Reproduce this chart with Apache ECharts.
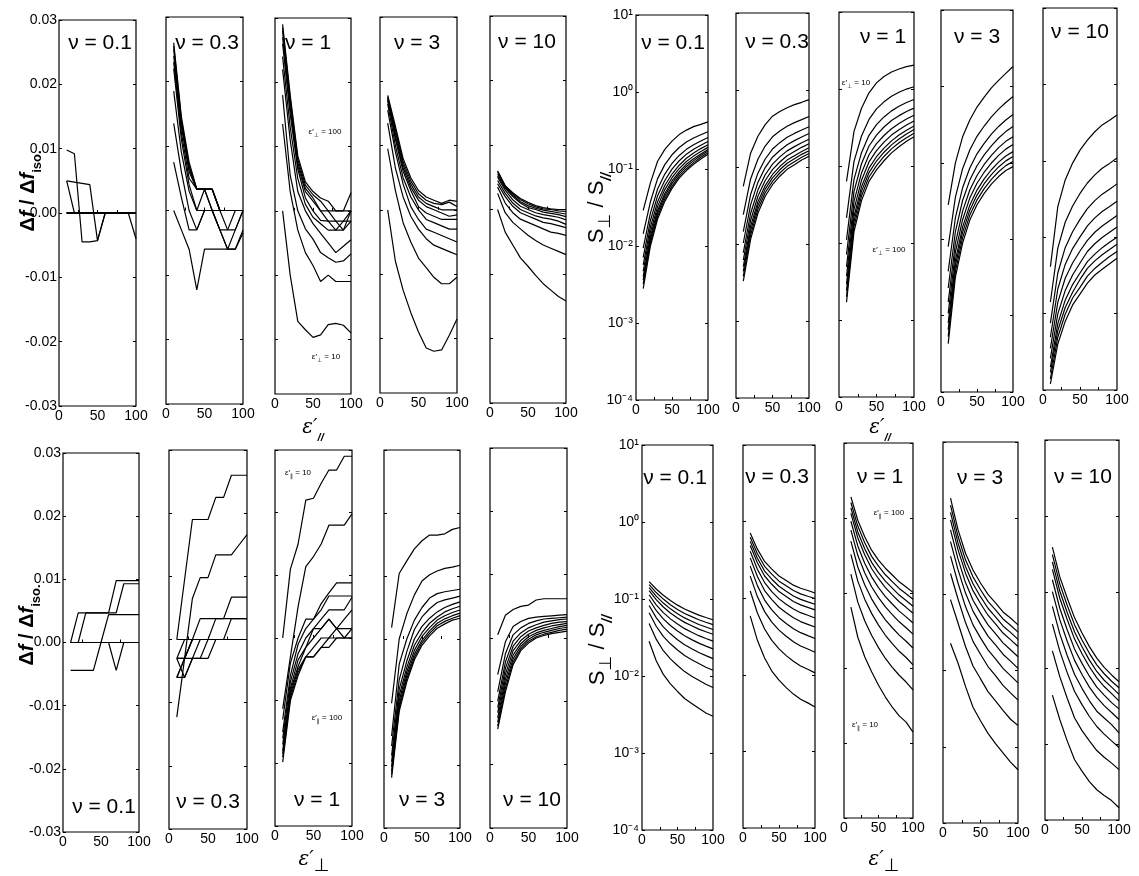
<!DOCTYPE html>
<html><head><meta charset="utf-8">
<script src="https://cdn.jsdelivr.net/npm/echarts@6/dist/echarts.min.js"></script>
<style>html,body{margin:0;padding:0;background:#fff}#c{width:1139px;height:876px}</style>
</head><body><div id="c"></div>
<script>
// ---------- shared axes / categories ----------
const X = [10,20,30,40,50,60,70,80,90,100];          // ε' sampled values
const epsLevels = [10,20,30,40,50,60,70,80,90,100];  // curve parameter (other ε')
const nuLabels = ['0.1','0.3','1','3','10'];
const xTickLabels = [0,50,100];
const xTickMarks = [25,50,75];
const linTicks = [-0.03,-0.02,-0.01,0,0.01,0.02,0.03];

// ---------- top-left: Δf/Δf_iso vs ε'∥ (rows: ε'⊥ = 10..100) ----------
const dfPar_nu01 = [
 [0.0098,0.0092,-0.0045,-0.0045,-0.0043,0,0,0,0,-0.004],
 [0.005,0.0048,0.0046,0.0044,-0.0043,0,0,0,0,0],
 [0.005,0,0,0,0,0,0,0,0,0],
 [0,0,0,0,0,0,0,0,0,0],[0,0,0,0,0,0,0,0,0,0],[0,0,0,0,0,0,0,0,0,0],
 [0,0,0,0,0,0,0,0,0,0],[0,0,0,0,0,0,0,0,0,0],[0,0,0,0,0,0,0,0,0,0],[0,0,0,0,0,0,0,0,0,0]
];
const dfPar_nu03 = [
 [0,-0.003,-0.006,-0.0123,-0.006,-0.006,-0.006,-0.006,-0.006,-0.0035],
 [0.0075,0.002,-0.003,-0.003,0,0,-0.003,-0.006,-0.006,-0.003],
 [0.0135,0.006,0,-0.003,0,0,-0.003,-0.006,-0.003,0],
 [0.0185,0.009,0.003,0,0,0,-0.003,-0.003,0,0],
 [0.022,0.011,0.004,0,0.0033,0,0,-0.003,-0.003,0],
 [0.023,0.012,0.005,0.0033,0.0033,0,0,0,0,0],
 [0.024,0.013,0.006,0.0033,0.0033,0.0033,0,0,0,0],
 [0.025,0.0135,0.0065,0.0033,0.0033,0.0033,0,0,0,0],
 [0.0255,0.014,0.007,0.0033,0.0033,0.0033,0,0,0,0],
 [0.026,0.0145,0.0075,0.0033,0.0033,0.0033,0,0,0,0]
];
const dfPar_nu1 = [
 [0,-0.01,-0.0172,-0.0185,-0.0197,-0.0193,-0.0177,-0.0175,-0.0178,-0.019],
 [0.0135,0.003,-0.003,-0.0065,-0.0085,-0.011,-0.01,-0.011,-0.011,-0.011],
 [0.018,0.0055,0,-0.0028,-0.0044,-0.0065,-0.0073,-0.008,-0.0078,-0.0067],
 [0.022,0.011,0.003,0,-0.002,-0.0035,-0.005,-0.0065,-0.0055,-0.0045],
 [0.024,0.013,0.005,0.001,-0.001,-0.002,-0.003,-0.003,-0.003,-0.0016],
 [0.026,0.015,0.0065,0.002,0,-0.0015,-0.0016,-0.003,-0.0016,-0.0016],
 [0.027,0.016,0.007,0.003,0.0015,0,-0.0016,-0.0016,-0.003,0],
 [0.028,0.017,0.0075,0.0035,0.002,0,0,-0.0016,-0.0016,0],
 [0.0285,0.0175,0.008,0.004,0.0025,0.0015,0,0,0,0],
 [0.029,0.018,0.0085,0.0045,0.003,0.002,0.0015,0,0,0.0028]
];
const dfPar_nu3 = [
 [0,-0.008,-0.0125,-0.016,-0.019,-0.0215,-0.022,-0.0218,-0.0195,-0.017],
 [0.0095,0.003,-0.002,-0.005,-0.0075,-0.009,-0.0105,-0.0115,-0.0115,-0.0105],
 [0.0135,0.0065,0.002,-0.001,-0.003,-0.0045,-0.0055,-0.006,-0.0065,-0.007],
 [0.0155,0.009,0.004,0.0005,-0.0015,-0.003,-0.0035,-0.004,-0.0045,-0.005],
 [0.0165,0.01,0.005,0.002,0,-0.0015,-0.002,-0.0025,-0.003,-0.003],
 [0.017,0.011,0.006,0.003,0.0005,-0.0005,-0.001,-0.0015,-0.0015,-0.0015],
 [0.0172,0.0115,0.0065,0.0035,0.0015,0.0005,0,-0.0005,-0.001,-0.0008],
 [0.0174,0.012,0.007,0.004,0.002,0.001,0.0005,0,0,0],
 [0.0176,0.0125,0.0075,0.0045,0.0025,0.0015,0.001,0.0008,0.0012,0.0005],
 [0.0178,0.013,0.008,0.005,0.003,0.002,0.0015,0.001,0.0015,0.0013]
];
const dfPar_nu10 = [
 [0,-0.0035,-0.0055,-0.0075,-0.0088,-0.0102,-0.0115,-0.0125,-0.0135,-0.0142],
 [0.0025,-0.0005,-0.002,-0.003,-0.004,-0.0048,-0.0055,-0.006,-0.0065,-0.007],
 [0.0035,0.001,-0.0005,-0.0015,-0.002,-0.0025,-0.003,-0.0035,-0.0037,-0.004],
 [0.004,0.002,0.0005,-0.0005,-0.001,-0.0015,-0.002,-0.0022,-0.0025,-0.0028],
 [0.0045,0.0025,0.001,0,-0.0005,-0.001,-0.0013,-0.0015,-0.0018,-0.0023],
 [0.005,0.003,0.0015,0.0005,0,-0.0005,-0.0008,-0.001,-0.0012,-0.0016],
 [0.0052,0.0033,0.002,0.001,0.0003,0,-0.0004,-0.0006,-0.0008,-0.0011],
 [0.0055,0.0035,0.0022,0.0012,0.0006,0.0002,-0.0001,-0.0003,-0.0005,-0.0007],
 [0.0058,0.0036,0.0024,0.0015,0.0009,0.0004,0.0001,0,-0.0002,-0.0003],
 [0.006,0.0037,0.0026,0.0017,0.0011,0.0006,0.0003,0.0001,0,0]
];

// ---------- top-right: S⊥/S∥ vs ε'∥ (rows: ε'⊥ = 10..100) ----------
const sPar_nu01 = [
 [0.029,0.066,0.126,0.18,0.23,0.28,0.32,0.355,0.38,0.41],
 [0.0144,0.0375,0.075,0.114,0.153,0.19,0.224,0.253,0.279,0.305],
 [0.0094,0.0267,0.055,0.086,0.118,0.15,0.18,0.207,0.231,0.256],
 [0.0071,0.0213,0.045,0.071,0.0995,0.128,0.156,0.18,0.204,0.228],
 [0.0057,0.0176,0.0376,0.061,0.086,0.112,0.138,0.161,0.184,0.207],
 [0.0047,0.0151,0.0327,0.054,0.077,0.101,0.125,0.147,0.169,0.191],
 [0.004,0.0133,0.029,0.048,0.07,0.092,0.115,0.136,0.157,0.179],
 [0.0036,0.0121,0.0266,0.0445,0.065,0.0865,0.108,0.1285,0.15,0.171],
 [0.0032,0.011,0.0244,0.041,0.06,0.081,0.101,0.121,0.142,0.163],
 [0.0028,0.01,0.0224,0.038,0.056,0.076,0.0955,0.115,0.135,0.155]
];
const sPar_nu03 = [
 [0.056,0.151,0.251,0.355,0.457,0.525,0.589,0.646,0.692,0.75],
 [0.024,0.07,0.126,0.187,0.247,0.294,0.339,0.377,0.412,0.452],
 [0.0145,0.0439,0.0832,0.127,0.171,0.207,0.243,0.273,0.302,0.333],
 [0.0103,0.0322,0.0631,0.0982,0.134,0.164,0.195,0.22,0.245,0.272],
 [0.0077,0.0249,0.0501,0.0793,0.109,0.1355,0.162,0.184,0.2065,0.229],
 [0.0062,0.0202,0.0417,0.0668,0.0925,0.116,0.14,0.159,0.18,0.2],
 [0.0051,0.0169,0.0355,0.0574,0.08,0.1014,0.123,0.14,0.159,0.178],
 [0.0044,0.0149,0.0316,0.0516,0.0723,0.092,0.112,0.128,0.146,0.163],
 [0.0038,0.0131,0.0282,0.0463,0.0652,0.0836,0.102,0.117,0.134,0.15],
 [0.0033,0.0115,0.0251,0.0417,0.0589,0.0759,0.0933,0.107,0.123,0.138]
];
const sPar_nu1 = [
 [0.0631,0.282,0.562,0.891,1.2,1.45,1.66,1.82,1.95,2.04],
 [0.0212,0.115,0.245,0.403,0.551,0.681,0.804,0.906,0.998,1.07],
 [0.011,0.067,0.149,0.25,0.345,0.434,0.52,0.596,0.667,0.731],
 [0.0071,0.0468,0.107,0.182,0.252,0.321,0.389,0.451,0.511,0.565],
 [0.0049,0.0347,0.0813,0.14,0.195,0.249,0.305,0.357,0.408,0.456],
 [0.0037,0.0273,0.0652,0.113,0.158,0.204,0.252,0.296,0.341,0.385],
 [0.0029,0.0221,0.0537,0.0938,0.132,0.171,0.212,0.252,0.292,0.33],
 [0.0024,0.0191,0.0468,0.0822,0.116,0.151,0.188,0.224,0.261,0.297],
 [0.002,0.0164,0.0407,0.072,0.101,0.133,0.167,0.2,0.233,0.267],
 [0.0017,0.0141,0.0355,0.0631,0.0891,0.117,0.148,0.178,0.209,0.24]
];
const sPar_nu3 = [
 [0.0282,0.1,0.219,0.363,0.537,0.724,0.955,1.2,1.48,1.82],
 [0.008,0.0355,0.0838,0.147,0.222,0.303,0.4,0.504,0.615,0.736],
 [0.0038,0.0191,0.0471,0.0853,0.131,0.18,0.237,0.299,0.363,0.428],
 [0.0023,0.0126,0.0321,0.0594,0.0916,0.127,0.167,0.211,0.256,0.298],
 [0.0015,0.0089,0.0233,0.044,0.0682,0.0951,0.125,0.158,0.191,0.22],
 [0.00107,0.0068,0.018,0.0345,0.054,0.0753,0.0993,0.125,0.151,0.173],
 [0.0008,0.0053,0.0144,0.0279,0.0439,0.0615,0.0811,0.102,0.123,0.14],
 [0.00065,0.0045,0.0123,0.024,0.0378,0.0532,0.0701,0.0883,0.106,0.121],
 [0.00053,0.0038,0.0104,0.0207,0.0327,0.046,0.0607,0.0764,0.0918,0.104],
 [0.00043,0.0032,0.0089,0.0178,0.0282,0.0398,0.0525,0.0661,0.0794,0.0891]
];
const sPar_nu10 = [
 [0.0041,0.0251,0.0562,0.0933,0.138,0.186,0.24,0.295,0.339,0.398],
 [0.00142,0.0072,0.0157,0.0256,0.0374,0.0512,0.0655,0.08,0.0925,0.109],
 [0.00075,0.0034,0.0073,0.0118,0.0171,0.0236,0.0301,0.0366,0.0425,0.0499],
 [0.00049,0.0021,0.0044,0.0071,0.0101,0.0141,0.0179,0.0217,0.0252,0.0296],
 [0.00035,0.0014,0.0029,0.0046,0.0066,0.0091,0.0116,0.014,0.0164,0.0192],
 [0.00026,0.00099,0.002,0.0032,0.0046,0.0065,0.0082,0.0099,0.0116,0.0136],
 [0.0002,0.00074,0.0015,0.0024,0.0034,0.0048,0.006,0.0073,0.0086,0.01],
 [0.00017,0.0006,0.0012,0.0019,0.0028,0.0039,0.0049,0.0059,0.0069,0.0081],
 [0.00014,0.00049,0.00098,0.0016,0.0022,0.0031,0.0039,0.0047,0.0056,0.0065],
 [0.00012,0.0004,0.00079,0.0013,0.0018,0.0025,0.0032,0.0038,0.0045,0.0053]
];

// ---------- bottom-left: Δf/Δf_iso vs ε'⊥ (rows: ε'∥ = 10..100) ----------
const dfPerp_nu01 = [
 [0,0.0047,0.0047,0.0047,0.0047,0.0047,0.0098,0.0098,0.0098,0.0098],
 [0,0,0.0047,0.0047,0.0047,0.0047,0.0047,0.0093,0.0093,0.0093],
 [-0.0044,-0.0044,-0.0044,-0.0044,0,0.0044,0.0044,0.0044,0.0044,0.0044],
 [0,0,0,0,0,0,-0.0044,0,0,0],
 [0,0,0,0,0,0,0,0,0,0],[0,0,0,0,0,0,0,0,0,0],[0,0,0,0,0,0,0,0,0,0],
 [0,0,0,0,0,0,0,0,0,0],[0,0,0,0,0,0,0,0,0,0],[0,0,0,0,0,0,0,0,0,0]
];
const dfPerp_nu03 = [
 [0,0.0095,0.019,0.019,0.019,0.0225,0.0225,0.026,0.026,0.026],
 [-0.0123,-0.003,0.0065,0.0098,0.0098,0.0134,0.0134,0.0134,0.015,0.0166],
 [-0.006,-0.003,0,0.0033,0.0033,0.0033,0.0033,0.0067,0.0067,0.0067],
 [-0.003,-0.006,-0.003,0,0,0.0033,0.0033,0.0033,0.0033,0.0033],
 [-0.006,-0.006,-0.003,-0.003,0,0,0,0.0033,0.0033,0.0033],
 [-0.003,-0.003,-0.003,-0.003,-0.003,0,0,0,0,0],
 [-0.003,-0.003,0,0,0,0,0,0,0,0],
 [0,0,0,0,0,0,0,0,0,0],
 [-0.006,-0.003,0,0,0,0,0,0,0,0],
 [-0.003,0,0,0,0,0,0,0,0,0]
];
const dfPerp_nu1 = [
 [0,0.011,0.015,0.022,0.0223,0.0247,0.0268,0.0268,0.029,0.029],
 [-0.0113,-0.003,0.005,0.0114,0.013,0.015,0.018,0.018,0.018,0.0198],
 [-0.013,-0.004,0,0.003,0.003,0.0055,0.0072,0.0088,0.0088,0.0088],
 [-0.015,-0.006,-0.001,0.0015,0.003,0.0045,0.0067,0.0067,0.0067,0.0067],
 [-0.016,-0.007,-0.0025,0,0.0015,0.003,0.0045,0.0045,0.0045,0.0065],
 [-0.017,-0.008,-0.0035,-0.0015,0.0015,0.0015,0.003,0.0015,0.003,0.0045],
 [-0.018,-0.0085,-0.0045,-0.0015,0,0.0015,0.003,0.0015,0.0015,0.0015],
 [-0.0185,-0.009,-0.005,-0.003,-0.0015,0,0,0.0015,0,0.0015],
 [-0.019,-0.0095,-0.0055,-0.003,-0.003,-0.0015,0,0,0,0],
 [-0.0198,-0.01,-0.006,-0.003,-0.003,-0.0015,-0.0015,0,0,0]
];
const dfPerp_nu3 = [
 [0.0018,0.0104,0.0124,0.0143,0.0156,0.0165,0.0165,0.0167,0.0174,0.0177],
 [-0.0102,0,0.004,0.007,0.0092,0.0102,0.0108,0.0112,0.0114,0.0117],
 [-0.0154,-0.004,0,0.003,0.005,0.0065,0.0072,0.0075,0.0077,0.0079],
 [-0.017,-0.0065,-0.002,0.0015,0.0035,0.0048,0.0058,0.0062,0.0065,0.0068],
 [-0.0185,-0.008,-0.0035,0,0.002,0.0033,0.0043,0.005,0.0055,0.0059],
 [-0.0195,-0.009,-0.0045,-0.001,0.001,0.0025,0.0035,0.0043,0.0048,0.0052],
 [-0.0203,-0.0098,-0.0052,-0.0018,0.0004,0.0018,0.003,0.0037,0.0042,0.0046],
 [-0.021,-0.0105,-0.0058,-0.0024,-0.0002,0.0013,0.0025,0.0032,0.0037,0.0041],
 [-0.0215,-0.011,-0.0063,-0.0029,-0.0006,0.0009,0.0021,0.0028,0.0033,0.0037],
 [-0.022,-0.0115,-0.0068,-0.0033,-0.001,0.0005,0.0017,0.0024,0.003,0.0033]
];
const dfPerp_nu10 = [
 [0.0005,0.0036,0.0045,0.005,0.0052,0.006,0.0062,0.0062,0.0062,0.0062],
 [-0.0058,-0.0006,0.0018,0.0026,0.0031,0.0033,0.0034,0.0035,0.0036,0.0037],
 [-0.0085,-0.0025,0.0005,0.0016,0.0023,0.0027,0.003,0.0031,0.0032,0.0033],
 [-0.01,-0.0038,-0.0005,0.0008,0.0016,0.0021,0.0025,0.0027,0.0029,0.003],
 [-0.011,-0.0048,-0.0013,0.0002,0.0011,0.0016,0.002,0.0023,0.0025,0.0026],
 [-0.0118,-0.0057,-0.002,-0.0004,0.0006,0.0012,0.0016,0.0019,0.0021,0.0023],
 [-0.0126,-0.0065,-0.0027,-0.0009,0.0002,0.0008,0.0012,0.0015,0.0018,0.002],
 [-0.0133,-0.0072,-0.0033,-0.0013,-0.0002,0.0005,0.0009,0.0012,0.0015,0.0017],
 [-0.0139,-0.0079,-0.0038,-0.0017,-0.0005,0.0002,0.0006,0.0009,0.0012,0.0014],
 [-0.0144,-0.0085,-0.0042,-0.002,-0.0008,0,0.0004,0.0007,0.0009,0.0011]
];

// ---------- bottom-right: S⊥/S∥ vs ε'⊥ (rows: ε'∥ = 10..100) ----------
const sPerp_nu01 = [
 [0.0282,0.0158,0.0105,0.0079,0.0063,0.0051,0.0044,0.0038,0.0033,0.003],
 [0.0482,0.0301,0.0213,0.0167,0.0137,0.0114,0.0099,0.0088,0.0078,0.0071],
 [0.0664,0.0443,0.0327,0.0262,0.0218,0.0185,0.0163,0.0145,0.013,0.0119],
 [0.0822,0.0573,0.0435,0.0353,0.0296,0.0255,0.0226,0.0202,0.0184,0.0168],
 [0.0984,0.071,0.0551,0.0453,0.0384,0.0333,0.0297,0.0267,0.0244,0.0225],
 [0.1135,0.0841,0.0665,0.0552,0.0472,0.0412,0.037,0.0334,0.0307,0.0284],
 [0.1285,0.098,0.0787,0.0658,0.0565,0.0497,0.0449,0.0406,0.0375,0.0348],
 [0.1406,0.1089,0.0885,0.0745,0.0643,0.0568,0.0514,0.0467,0.0433,0.0402],
 [0.1535,0.1213,0.0998,0.0843,0.0731,0.0649,0.059,0.0537,0.0499,0.0465],
 [0.168,0.135,0.112,0.0955,0.0832,0.0741,0.0676,0.0617,0.0575,0.0537]
];
const sPerp_nu03 = [
 [0.0589,0.0282,0.0166,0.0112,0.0085,0.0068,0.0056,0.0048,0.0043,0.0038],
 [0.124,0.0641,0.0396,0.0281,0.0218,0.0178,0.015,0.013,0.0118,0.0106],
 [0.194,0.105,0.0668,0.0488,0.0383,0.0318,0.027,0.0238,0.0217,0.0197],
 [0.262,0.146,0.0946,0.0705,0.0557,0.0468,0.04,0.0355,0.0325,0.0298],
 [0.336,0.192,0.126,0.0957,0.0762,0.0646,0.0555,0.0495,0.0456,0.042],
 [0.409,0.239,0.16,0.122,0.098,0.0836,0.0721,0.0647,0.0598,0.0552],
 [0.488,0.29,0.195,0.152,0.122,0.105,0.0906,0.0818,0.0759,0.0703],
 [0.552,0.332,0.226,0.177,0.143,0.123,0.107,0.0966,0.0897,0.0834],
 [0.625,0.381,0.261,0.206,0.167,0.145,0.126,0.114,0.106,0.0991],
 [0.708,0.437,0.302,0.24,0.195,0.17,0.148,0.135,0.126,0.117]
];
const sPerp_nu1 = [
 [0.0646,0.0257,0.0141,0.0089,0.0059,0.0041,0.003,0.0023,0.0019,0.0014],
 [0.178,0.0755,0.0427,0.0273,0.0187,0.0134,0.0102,0.008,0.0065,0.0051],
 [0.328,0.144,0.0828,0.0535,0.0373,0.0273,0.0211,0.0167,0.0138,0.011],
 [0.492,0.222,0.129,0.0836,0.0592,0.0439,0.0344,0.0274,0.0227,0.0185],
 [0.69,0.318,0.186,0.121,0.0869,0.0652,0.0515,0.0413,0.0344,0.0283],
 [0.906,0.424,0.25,0.164,0.118,0.0895,0.0713,0.0573,0.0481,0.0399],
 [1.15,0.545,0.324,0.212,0.155,0.118,0.0946,0.0764,0.0644,0.0538],
 [1.36,0.652,0.389,0.256,0.187,0.144,0.116,0.0938,0.0793,0.0667],
 [1.61,0.78,0.468,0.308,0.228,0.175,0.142,0.115,0.0977,0.0826],
 [1.91,0.933,0.562,0.372,0.275,0.214,0.174,0.141,0.12,0.102]
];
const sPerp_nu3 = [
 [0.0229,0.0126,0.0062,0.0033,0.0022,0.0015,0.0011,0.00083,0.00063,0.0005],
 [0.0855,0.0422,0.0207,0.0115,0.0078,0.0053,0.004,0.003,0.0023,0.0019],
 [0.188,0.0871,0.0427,0.0242,0.0164,0.0113,0.0086,0.0064,0.0051,0.0041],
 [0.318,0.141,0.0692,0.0398,0.0269,0.0187,0.0143,0.0107,0.0086,0.0069],
 [0.494,0.211,0.104,0.0603,0.0407,0.0284,0.0218,0.0164,0.0133,0.0107],
 [0.702,0.292,0.143,0.0839,0.0568,0.0398,0.0305,0.0231,0.0188,0.0152],
 [0.953,0.387,0.19,0.112,0.0759,0.0533,0.0411,0.0311,0.0255,0.0207],
 [1.19,0.473,0.232,0.138,0.0933,0.0658,0.0508,0.0385,0.0317,0.0257],
 [1.48,0.579,0.284,0.17,0.115,0.0811,0.0628,0.0476,0.0394,0.032],
 [1.84,0.708,0.347,0.209,0.141,0.1,0.0776,0.0589,0.049,0.0398]
];
const sPerp_nu10 = [
 [0.0044,0.0021,0.0011,0.00062,0.00044,0.00032,0.00025,0.00021,0.00018,0.000145],
 [0.0168,0.0077,0.004,0.0022,0.0015,0.0011,0.00082,0.00067,0.00056,0.00046],
 [0.0377,0.0167,0.0087,0.0049,0.0033,0.0023,0.0017,0.00135,0.0011,0.0009],
 [0.0646,0.0281,0.0146,0.0082,0.0054,0.0037,0.0027,0.0022,0.0018,0.0014],
 [0.101,0.0433,0.0225,0.0126,0.0082,0.0056,0.0041,0.0032,0.0026,0.0021],
 [0.145,0.0611,0.0319,0.0177,0.0115,0.0078,0.0056,0.0044,0.0035,0.0029],
 [0.199,0.0828,0.0434,0.024,0.0154,0.0104,0.0074,0.0057,0.0046,0.0037],
 [0.248,0.103,0.0538,0.0297,0.019,0.0127,0.009,0.0069,0.0056,0.0045],
 [0.311,0.128,0.067,0.0369,0.0234,0.0156,0.011,0.0084,0.0067,0.0055],
 [0.389,0.158,0.0832,0.0457,0.0288,0.0191,0.0135,0.0102,0.0081,0.0066]
];

// ---------- layout ----------
const FONT = "'Liberation Sans', Arial, sans-serif";
const panels = [
 {l:59,  t:20,  w:77, h:386, min:-0.03,   max:0.03, data:dfPar_nu01, labels:true},
 {l:166, t:17,  w:77, h:387, min:-0.03,   max:0.03, data:dfPar_nu03},
 {l:275, t:18,  w:76, h:376, min:-0.0285, max:0.03, data:dfPar_nu1},
 {l:380, t:17,  w:77, h:376, min:-0.0285, max:0.03, data:dfPar_nu3},
 {l:490, t:16,  w:76, h:387, min:-0.03,   max:0.03, data:dfPar_nu10},
 {l:636, t:15,  w:72, h:385, log:true, data:sPar_nu01, labels:true},
 {l:736, t:13,  w:73, h:385, log:true, data:sPar_nu03},
 {l:839, t:12,  w:75, h:385, log:true, data:sPar_nu1},
 {l:941, t:10,  w:72, h:382, log:true, data:sPar_nu3},
 {l:1043,t:8,   w:74, h:382, log:true, data:sPar_nu10},
 {l:63,  t:453, w:76, h:379, min:-0.03, max:0.03, data:dfPerp_nu01, labels:true},
 {l:169, t:450, w:78, h:379, min:-0.03, max:0.03, data:dfPerp_nu03},
 {l:275, t:450, w:77, h:376, min:-0.03, max:0.03, data:dfPerp_nu1},
 {l:384, t:450, w:76, h:378, min:-0.03, max:0.03, data:dfPerp_nu3},
 {l:490, t:448, w:77, h:380, min:-0.03, max:0.03, data:dfPerp_nu10},
 {l:642, t:445, w:71, h:385, log:true, data:sPerp_nu01, labels:true},
 {l:743, t:445, w:72, h:383, log:true, data:sPerp_nu03},
 {l:844, t:443, w:69, h:375, log:true, data:sPerp_nu1},
 {l:943, t:442, w:75, h:381, log:true, data:sPerp_nu3},
 {l:1045,t:440, w:74, h:380, log:true, data:sPerp_nu10}
];

const SUP = {'-':'\u207B','0':'\u2070','1':'\u00B9','2':'\u00B2','3':'\u00B3','4':'\u2074'};
const logFmt = v => '10' + String(Math.round(Math.log10(v))).split('').map(c => SUP[c]).join('');
const linFmt = v => (Math.round(v*100)/100).toFixed(2);
const tickStyle = {color:'#000', width:1};

const grid = [], xAxis = [], yAxis = [], series = [];
panels.forEach((p, i) => {
  grid.push({left:p.l, top:p.t, width:p.w, height:p.h, show:true, borderColor:'#000', borderWidth:1.2, backgroundColor:'rgba(0,0,0,0)'});
  xAxis.push({gridIndex:i, type:'value', min:0, max:100,
    axisLine:{show:false}, splitLine:{show:false},
    axisTick:{show:true, inside:true, length:3, customValues:xTickMarks, lineStyle:tickStyle},
    axisLabel:{color:'#000', fontSize:14, fontFamily:FONT, margin:3, customValues:xTickLabels}});
  const ticks = linTicks.filter(v => v >= p.min - 1e-9 && v <= p.max + 1e-9);
  const base = p.log ? {type:'log', logBase:10, min:1e-4, max:10} : {type:'value', min:p.min, max:p.max};
  const tick = p.log ? {show:true, inside:true, length:3, lineStyle:tickStyle}
                     : {show:true, inside:true, length:3, customValues:ticks, lineStyle:tickStyle};
  const lab = p.labels
    ? (p.log ? {show:true, color:'#000', fontSize:14, fontFamily:FONT, margin:3, formatter:logFmt}
             : {show:true, color:'#000', fontSize:14, fontFamily:FONT, margin:2, customValues:ticks, formatter:linFmt})
    : {show:false};
  yAxis.push(Object.assign({}, base, {gridIndex:i, position:'left', axisLine:{show:false}, splitLine:{show:false}, axisTick:tick, axisLabel:lab}));
  yAxis.push(Object.assign({}, base, {gridIndex:i, position:'right', axisLine:{show:false}, splitLine:{show:false}, axisTick:tick, axisLabel:{show:false}}));
  p.data.forEach((curve, k) => {
    series.push({type:'line', name:'eps' + epsLevels[k] + '_' + i, xAxisIndex:i, yAxisIndex:2*i,
      data: X.map((x, j) => [x, curve[j]]), showSymbol:false, symbol:'none', silent:true,
      lineStyle:{color:'#000', width:1.2}, animation:false, clip:true});
  });
});

// ---------- text ----------
const nuPos = [
 [100,43],[207,43],[308,43],[417,43],[527,42],
 [673,43],[777,42],[883,37],[977,37],[1080,32],
 [104,807],[208,802],[317,800],[422,800],[532,800],
 [675,478],[777,477],[880,477],[980,478],[1083,477]
];
const graphic = [];
nuPos.forEach((pos, i) => {
  graphic.push({type:'text', x:pos[0], y:pos[1], z:100, silent:true,
    style:{text:'\u03BD = ' + nuLabels[i % 5], fill:'#000', fontSize:21, fontFamily:FONT, align:'center', verticalAlign:'middle'}});
});
const annRich = {a:{fontSize:8, fontFamily:FONT, fill:'#000', lineHeight:12, verticalAlign:'middle'},
                 s:{fontSize:6, fontFamily:'DejaVu Sans', fill:'#000', lineHeight:6, verticalAlign:'bottom'}};
const ann = [
 [325,132,'\u22A5','100'],[326,357,'\u22A5','10'],
 [856,83,'\u22A5','10'],[889,250,'\u22A5','100'],
 [298,473,'\u2225','10'],[327,718,'\u2225','100'],
 [889,513,'\u2225','100'],[865,725,'\u2225','10']
];
ann.forEach(a => graphic.push({type:'text', x:a[0], y:a[1], z:100, silent:true,
  style:{text:'{a|\u03B5\u2032}{s|' + a[2] + '}{a| = ' + a[3] + '}', rich:annRich, align:'center', verticalAlign:'middle'}}));

const dfRich = {n:{fontSize:20, fontFamily:FONT, fill:'#000', lineHeight:32, verticalAlign:'middle', fontWeight:'bold'},
                i:{fontSize:20, fontFamily:FONT, fill:'#000', lineHeight:32, verticalAlign:'middle', fontStyle:'italic', fontWeight:'bold'},
                s:{fontSize:13, fontFamily:FONT, fill:'#000', lineHeight:14, verticalAlign:'bottom', fontWeight:'bold'}};
const dfText = '{n|\u0394}{i|f}{n| / \u0394}{i|f}{s|iso.}';
graphic.push({type:'text', x:28, y:191, rotation:Math.PI/2, z:100, silent:true, style:{text:dfText, rich:dfRich, align:'center', verticalAlign:'middle'}});
graphic.push({type:'text', x:27, y:625, rotation:Math.PI/2, z:100, silent:true, style:{text:dfText, rich:dfRich, align:'center', verticalAlign:'middle'}});

const sRich = {n:{fontSize:22, fontFamily:FONT, fill:'#000', lineHeight:34, verticalAlign:'middle'},
               s:{fontSize:17, fontFamily:'DejaVu Sans', fill:'#000', lineHeight:17, verticalAlign:'bottom'},
               p:{fontSize:14, fontFamily:FONT, fill:'#000', lineHeight:14, verticalAlign:'bottom', fontStyle:'italic', fontWeight:'bold'}};
const sText = '{n|S}{s|\u22A5}{n| / S}{p|//}';
graphic.push({type:'text', x:597, y:208, rotation:Math.PI/2, z:100, silent:true, style:{text:sText, rich:sRich, align:'center', verticalAlign:'middle'}});
graphic.push({type:'text', x:598, y:650, rotation:Math.PI/2, z:100, silent:true, style:{text:sText, rich:sRich, align:'center', verticalAlign:'middle'}});

const eRich = {e:{fontSize:20, fontFamily:'DejaVu Serif', fill:'#000', lineHeight:30, verticalAlign:'middle', fontStyle:'italic'},
               p:{fontSize:11, fontFamily:FONT, fill:'#000', lineHeight:11, verticalAlign:'bottom', fontStyle:'italic', fontWeight:'bold'},
               q:{fontSize:18, fontFamily:'DejaVu Sans', fill:'#000', lineHeight:18, verticalAlign:'bottom'}};
graphic.push({type:'text', x:313, y:428, z:100, silent:true, style:{text:'{e|\u03B5\u2032}{p|//}', rich:eRich, align:'center', verticalAlign:'middle'}});
graphic.push({type:'text', x:880, y:428, z:100, silent:true, style:{text:'{e|\u03B5\u2032}{p|//}', rich:eRich, align:'center', verticalAlign:'middle'}});
graphic.push({type:'text', x:314, y:860, z:100, silent:true, style:{text:'{e|\u03B5\u2032}{q|\u22A5}', rich:eRich, align:'center', verticalAlign:'middle'}});
graphic.push({type:'text', x:884, y:860, z:100, silent:true, style:{text:'{e|\u03B5\u2032}{q|\u22A5}', rich:eRich, align:'center', verticalAlign:'middle'}});

const chart = echarts.init(document.getElementById('c'), null, {renderer:'canvas'});
chart.setOption({backgroundColor:'#fff', animation:false, grid, xAxis, yAxis, series, graphic});
</script></body></html>
